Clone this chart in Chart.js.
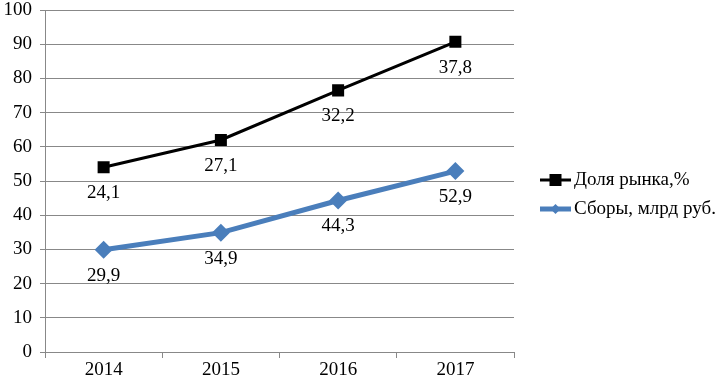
<!DOCTYPE html>
<html><head><meta charset="utf-8">
<script src="https://cdn.jsdelivr.net/npm/chart.js@4/dist/chart.umd.min.js"></script>
<style>html,body{margin:0;padding:0;background:#fff}canvas{display:block}</style>
</head><body>
<canvas id="c" width="722" height="383"></canvas>
<script>
const categories = ['2014', '2015', '2016', '2017'];
const shareValues = [24.1, 27.1, 32.2, 37.8];
const revenueValues = [29.9, 34.9, 44.3, 52.9];
const seriesNames = ['Доля рынка,%', 'Сборы, млрд руб.'];
const yTicks = [0, 10, 20, 30, 40, 50, 60, 70, 80, 90, 100];

const FONT = 'Liberation Serif';
const FS = 19;
const BLUE = '#4a7ebb';

const labelPlugin = {
  id: 'labels',
  afterDatasetsDraw(chart) {
    const ctx = chart.ctx;
    ctx.save();
    ctx.font = FS + 'px "' + FONT + '"';
    ctx.fillStyle = '#000';
    ctx.textAlign = 'center';
    ctx.textBaseline = 'middle';
    chart.data.datasets.forEach((ds, i) => {
      const meta = chart.getDatasetMeta(i);
      meta.data.forEach((pt, j) => {
        const v = ds.data[j];
        ctx.fillText(String(v).replace('.', ','), pt.x, pt.y + 26);
      });
    });
    ctx.restore();
  },
  afterDraw(chart) {
    const ctx = chart.ctx;
    ctx.save();
    const x0 = 540, x1 = 571;
    const items = [
      {y: 180, name: seriesNames[0], color: '#000', lw: 3, marker: 'square'},
      {y: 209, name: seriesNames[1], color: BLUE, lw: 5, marker: 'diamond'}
    ];
    items.forEach(it => {
      ctx.strokeStyle = it.color;
      ctx.lineWidth = it.lw;
      ctx.beginPath();
      ctx.moveTo(x0, it.y);
      ctx.lineTo(x1, it.y);
      ctx.stroke();
      ctx.fillStyle = it.color;
      const cx = (x0 + x1) / 2;
      if (it.marker === 'square') {
        ctx.fillRect(cx - 6, it.y - 6, 12, 12);
      } else {
        ctx.beginPath();
        ctx.moveTo(cx, it.y - 5);
        ctx.lineTo(cx + 5, it.y);
        ctx.lineTo(cx, it.y + 5);
        ctx.lineTo(cx - 5, it.y);
        ctx.closePath();
        ctx.fill();
      }
      ctx.fillStyle = '#000';
      ctx.font = FS + 'px "' + FONT + '"';
      ctx.textAlign = 'left';
      ctx.textBaseline = 'middle';
      ctx.fillText(it.name, x1 + 3, it.y);
    });
    ctx.restore();
  }
};

new Chart(document.getElementById('c'), {
  type: 'line',
  data: {
    labels: categories,
    datasets: [
      {
        label: seriesNames[1],
        data: revenueValues,
        borderColor: BLUE,
        backgroundColor: BLUE,
        borderWidth: 5,
        pointStyle: 'rectRot',
        pointRadius: 9,
        pointBorderWidth: 0,
        tension: 0,
        fill: false,
        stack: 's'
      },
      {
        label: seriesNames[0],
        data: shareValues,
        borderColor: '#000',
        backgroundColor: '#000',
        borderWidth: 3,
        pointStyle: 'rect',
        pointRadius: 8.5,
        pointBorderWidth: 0,
        tension: 0,
        fill: false,
        stack: 's'
      }
    ]
  },
  options: {
    responsive: false,
    animation: false,
    events: [],
    layout: {padding: {top: 10, right: 208, left: 0, bottom: 0}},
    plugins: {legend: {display: false}, tooltip: {enabled: false}},
    scales: {
      x: {
        offset: true,
        grid: {display: true, drawOnChartArea: false, drawTicks: true, tickLength: 6, color: '#888', offset: true},
        border: {color: '#888', width: 1},
        ticks: {color: '#000', font: {family: FONT, size: FS}, padding: 1, maxRotation: 0},
        afterFit(s) { s.height = 31; s.paddingLeft = 0; s.paddingRight = 0; }
      },
      y: {
        stacked: true,
        min: 0,
        max: 100,
        afterBuildTicks(s) { s.ticks = yTicks.map(v => ({value: v})); },
        grid: {color: '#888', lineWidth: 1, drawTicks: true, tickLength: 5},
        border: {color: '#888', width: 1},
        ticks: {color: '#000', font: {family: FONT, size: FS}, padding: 8},
        afterFit(s) { s.width = 45; s.paddingTop = 0; s.paddingBottom = 0; }
      }
    }
  },
  plugins: [labelPlugin]
});
</script>
</body></html>
